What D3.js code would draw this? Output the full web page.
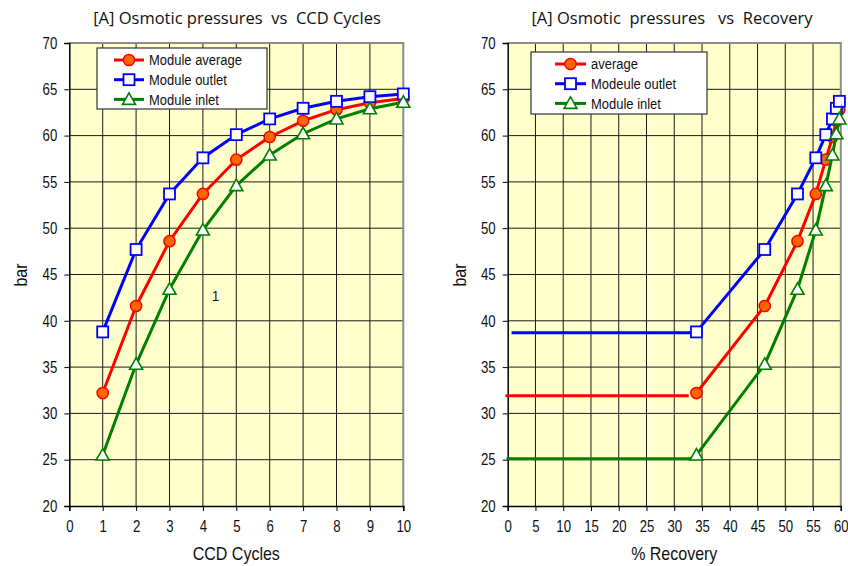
<!DOCTYPE html>
<html>
<head>
<meta charset="utf-8">
<script src="https://cdn.jsdelivr.net/npm/d3@7"></script>
<style>
  body { margin: 0; background: #ffffff; }
  svg { display: block; }
  .tick text { font-family: "Liberation Sans", Arial, sans-serif; font-size: 16.5px; fill: #111; }
  .title { font-family: "Open Sans", "Lato", sans-serif; font-size: 16.5px; fill: #111; white-space: pre; }
  .axis-title { font-family: "Liberation Sans", Arial, sans-serif; font-size: 18px; fill: #111; }
  .legend-text { font-family: "Liberation Sans", Arial, sans-serif; font-size: 15px; fill: #111; }
</style>
</head>
<body>
<svg id="chart" width="848" height="566"></svg>
<script>
// CCD cycle number and the % recovery reached at each cycle
const cycles = [1, 2, 3, 4, 5, 6, 7, 8, 9, 10];
const recovery = [34.0, 46.3, 52.2, 55.5, 57.3, 58.5, 59.2, 59.75, 60.2, 60.5];

// osmotic pressures (bar) per cycle
const avgBar    = [32.2, 41.6, 48.6, 53.7, 57.4, 59.85, 61.6, 62.8, 63.55, 64.0];
const outletBar = [38.8, 47.7, 53.7, 57.6, 60.1, 61.8, 62.95, 63.7, 64.2, 64.5];
const inletBar  = [25.5, 35.3, 43.4, 49.8, 54.6, 57.9, 60.2, 61.8, 62.9, 63.6];

// starting (flat) levels before the first cycle: average, outlet, inlet
const startFrom  = [-0.4, 0.7, -0.2];
const startTo    = [32.6, 34.0, 34.0];
const startLevel = [31.9, 38.7, 25.1];

// tick values
const cycleTicks    = [0, 1, 2, 3, 4, 5, 6, 7, 8, 9, 10];
const recoveryTicks = [0, 5, 10, 15, 20, 25, 30, 35, 40, 45, 50, 55, 60];
const barTicks      = [20, 25, 30, 35, 40, 45, 50, 55, 60, 65, 70];

// labels
const leftTitle  = "[A] Osmotic pressures  vs  CCD Cycles";
const rightTitle = "[A] Osmotic  pressures   vs  Recovery";
const leftLegend  = ["Module average", "Module outlet", "Module inlet"];
const rightLegend = ["average", "Modeule outlet", "Module inlet"];

const seriesValues = [avgBar, outletBar, inletBar];
const seriesStyle = [
  { color: "#ff0000", marker: "circle" },
  { color: "#0000ff", marker: "square" },
  { color: "#008000", marker: "triangle" }
];

const svg = d3.select("#chart");

// horizontally condense text (narrow face look) while keeping its anchor position
function condense(sel, k) {
  sel.each(function () {
    const t = d3.select(this);
    const x = +t.attr("x") || 0;
    t.attr("x", 0).attr("transform", `translate(${x},0) scale(${k},1)`);
  });
}

function drawMarker(g, type, color, x, y) {
  if (type === "circle") {
    g.append("circle").attr("cx", x).attr("cy", y).attr("r", 5.6)
      .attr("fill", "#ff6600").attr("stroke", "#ff0000").attr("stroke-width", 1.5);
  } else if (type === "square") {
    g.append("rect").attr("x", x - 5.5).attr("y", y - 5.5).attr("width", 11).attr("height", 11)
      .attr("fill", "#ffffff").attr("stroke", color).attr("stroke-width", 1.8);
  } else {
    g.append("path")
      .attr("d", `M${x},${y - 6.5}L${x + 6.5},${y + 5}L${x - 6.5},${y + 5}Z`)
      .attr("fill", "#ffffff").attr("stroke", color).attr("stroke-width", 1.6);
  }
}

function drawPanel(cfg) {
  const g = svg.append("g");
  const x = d3.scaleLinear().domain(cfg.xDomain).range([cfg.left, cfg.right]);
  const y = d3.scaleLinear().domain([20, 70]).range([cfg.bottom, cfg.top]);

  // plot background
  g.append("rect").attr("x", cfg.left).attr("y", cfg.top)
    .attr("width", cfg.right - cfg.left).attr("height", cfg.bottom - cfg.top)
    .attr("fill", "#ffffcc");

  // grid
  g.append("g").selectAll("line").data(cfg.xTicks.slice(1, -1)).join("line")
    .attr("x1", d => x(d)).attr("x2", d => x(d))
    .attr("y1", cfg.top).attr("y2", cfg.bottom)
    .attr("stroke", "#1a1a1a").attr("stroke-width", 1);
  g.append("g").selectAll("line").data(barTicks.slice(1, -1)).join("line")
    .attr("x1", cfg.left).attr("x2", cfg.right)
    .attr("y1", d => y(d)).attr("y2", d => y(d))
    .attr("stroke", "#1a1a1a").attr("stroke-width", 1);

  // top and right frame
  g.append("path")
    .attr("d", `M${cfg.left},${cfg.top}H${cfg.right}V${cfg.bottom}`)
    .attr("fill", "none").attr("stroke", "#8c8c8c").attr("stroke-width", 2);

  // axes
  const xAxis = g.append("g").attr("transform", `translate(0,${cfg.bottom})`)
    .call(d3.axisBottom(x).tickValues(cfg.xTicks).tickSize(5).tickPadding(9).tickFormat(d3.format("d")));
  const yAxis = g.append("g").attr("transform", `translate(${cfg.left},0)`)
    .call(d3.axisLeft(y).tickValues(barTicks).tickSize(5).tickPadding(7).tickFormat(d3.format("d")));
  [xAxis, yAxis].forEach(a => {
    a.select(".domain").attr("stroke", "#000").attr("stroke-width", 1.5);
    a.selectAll(".tick line").attr("stroke", "#000");
    a.attr("font-family", null).attr("font-size", null);
    condense(a.selectAll(".tick text"), 0.8);
  });

  // titles
  g.append("text").attr("class", "title").attr("x", cfg.titleX).attr("y", 23.5)
    .attr("text-anchor", "middle").text(cfg.title);
  condense(g.append("text").attr("class", "axis-title").attr("x", (cfg.left + cfg.right) / 2).attr("y", 560)
    .attr("text-anchor", "middle").text(cfg.xLabel), 0.89);
  g.append("text").attr("class", "axis-title")
    .attr("transform", `translate(${cfg.left - 42},275) rotate(-90) scale(0.89,1)`)
    .attr("text-anchor", "middle").text("bar");

  // series
  const clipId = "clip-" + cfg.id;
  g.append("clipPath").attr("id", clipId).append("rect")
    .attr("x", cfg.left).attr("y", cfg.top - 6)
    .attr("width", cfg.right - cfg.left + 1).attr("height", cfg.bottom - cfg.top + 6);

  const line = d3.line().x(d => x(d[0])).y(d => y(d[1]));

  if (cfg.startLines) {
    seriesStyle.forEach((s, i) => {
      g.append("path")
        .datum([[startFrom[i], startLevel[i]], [startTo[i], startLevel[i]]])
        .attr("d", line).attr("fill", "none")
        .attr("stroke", s.color).attr("stroke-width", 3);
    });
  }

  seriesStyle.forEach((s, i) => {
    const pts = cfg.xValues.map((xv, k) => [xv, seriesValues[i][k]]);
    const sg = g.append("g");
    sg.append("path").datum(pts).attr("d", line)
      .attr("clip-path", `url(#${clipId})`)
      .attr("fill", "none").attr("stroke", s.color).attr("stroke-width", 3)
      .attr("stroke-linejoin", "round");
    pts.filter(p => p[0] <= cfg.xDomain[1]).forEach(p => drawMarker(sg, s.marker, s.color, x(p[0]), y(p[1])));
  });

  // legend
  const lb = cfg.legendBox;
  const lg = g.append("g");
  lg.append("rect").attr("x", lb.x).attr("y", lb.y).attr("width", lb.w).attr("height", lb.h)
    .attr("fill", "#ffffff").attr("stroke", "#333").attr("stroke-width", 1.2);
  cfg.legend.forEach((label, i) => {
    const cy = lb.y + 12 + i * 19.7;
    const s = seriesStyle[i];
    lg.append("line").attr("x1", lb.x + lb.lineX0).attr("x2", lb.x + lb.lineX1)
      .attr("y1", cy).attr("y2", cy).attr("stroke", s.color).attr("stroke-width", 3);
    drawMarker(lg, s.marker, s.color, lb.x + (lb.lineX0 + lb.lineX1) / 2, cy);
    condense(lg.append("text").attr("class", "legend-text").attr("x", lb.x + lb.textX).attr("y", cy + 5.5)
      .text(label), 0.865);
  });

  if (cfg.extra) cfg.extra(g, x, y);
}

drawPanel({
  id: "cycles",
  left: 69.3, right: 403.3, top: 43, bottom: 506,
  xDomain: [0, 10], xTicks: cycleTicks, xValues: cycles,
  title: leftTitle, titleX: 237, xLabel: "CCD Cycles",
  legend: leftLegend,
  legendBox: { x: 97, y: 48, w: 170, h: 61, lineX0: 17, lineX1: 47, textX: 52 },
  startLines: false,
  extra: (g) => {
    condense(g.append("text").attr("class", "legend-text").attr("x", 212).attr("y", 301).text("1"), 0.865);
  }
});

drawPanel({
  id: "recovery",
  left: 507.7, right: 840.8, top: 43, bottom: 506,
  xDomain: [0, 60], xTicks: recoveryTicks, xValues: recovery,
  title: rightTitle, titleX: 672, xLabel: "% Recovery",
  legend: rightLegend,
  legendBox: { x: 531, y: 52, w: 176, h: 62, lineX0: 24, lineX1: 55, textX: 60 },
  startLines: true
});
</script>
</body>
</html>
